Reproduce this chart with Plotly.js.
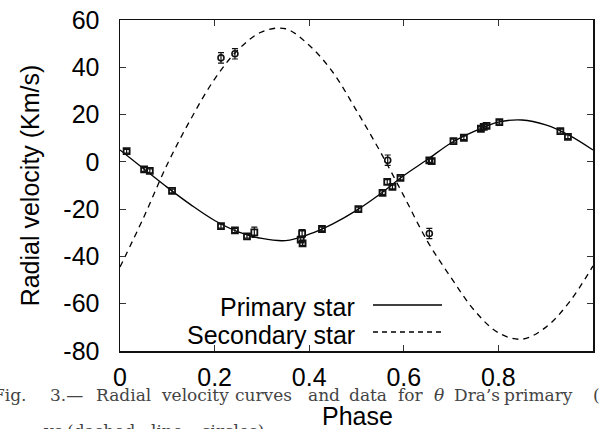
<!DOCTYPE html>
<html>
<head>
<meta charset="utf-8">
<script src="https://cdn.plot.ly/plotly-3.0.1.min.js"></script>
<style>html,body{margin:0;padding:0;background:#fff;}#chart{width:599px;height:429px;}</style>
</head>
<body>
<div id="chart"></div>
<script>
// Model curves
const curvePhase = [0,0.05,0.10,0.15,0.20,0.25,0.30,0.35,0.40,0.45,0.50,0.55,0.60,0.65,0.70,0.75,0.80,0.85,0.90,0.95,1.00];
const primaryCurve = [5.0,-2.9,-10.8,-18.2,-24.8,-29.6,-32.4,-33.3,-30.6,-26.2,-20.5,-13.6,-5.8,1.0,8.0,13.0,16.8,17.7,15.6,11.2,5.0];
const secondaryCurve = [-44.5,-23.5,-1.0,18.2,35.0,47.5,55.0,56.3,49.3,37.9,21.7,4.4,-14.4,-33.6,-49.0,-63.0,-72.3,-75.0,-70.0,-59.3,-44.0];

// Primary star data (squares)
const primaryPhase = [0.014,0.051,0.063,0.110,0.2135,0.243,0.2685,0.284,0.385,0.382,0.386,0.427,0.504,0.555,0.565,0.576,0.593,0.654,0.659,0.705,0.727,0.763,0.769,0.775,0.802,0.931,0.947];
const primaryRV    = [4.5,-3.2,-3.8,-12.3,-27.2,-29.0,-31.5,-29.8,-30.3,-32.9,-34.5,-28.4,-20.0,-13.1,-8.5,-10.6,-6.8,0.6,0.3,8.8,10.2,14.0,14.8,15.2,16.8,13.0,10.6];
const primaryErr   = [0.8,0.8,0.8,0.8,0.8,0.9,0.8,2.2,1.6,0.8,0.8,0.8,0.8,0.8,1.0,0.8,0.8,0.8,0.8,0.8,0.8,0.8,0.8,0.8,0.8,0.8,0.8];

// Secondary star data (circles)
const secondaryPhase = [0.2135,0.243,0.566,0.654];
const secondaryRV    = [44.0,45.7,0.7,-30.3];
const secondaryErr   = [2.2,2.2,2.2,2.2];

// Axis ticks
const xTickVals = [0,0.2,0.4,0.6,0.8,1];
const xTickText = ['0','0.2','0.4','0.6','0.8','1'];
const yTickVals = [-80,-60,-40,-20,0,20,40,60];
const yTickText = ['-80','-60','-40','-20','0','20','40','60'];

const legendNames = ['Primary star','Secondary star'];
const xTitle = 'Phase';
const yTitle = 'Radial velocity (Km/s)';

// Caption words (text, left edge in px) as they show under the chart
const captionLine1 = [['Fig.', -8], ['3.—', 49], ['Radial', 95], ['velocity', 160], ['curves', 234], ['and', 307], ['data', 348],
  ['for', 397], ['<i>θ</i>', 433], ['Dra\u2019s', 453], ['primary', 503], ['(', 592]];
const captionLine2 = [['ve', 42], ['(dashed', 66], ['line;', 150], ['circles).', 200]];

const sans = '"Liberation Sans", Arial, sans-serif';
const serif = '"DejaVu Serif", serif';

const traces = [
  {x: curvePhase, y: primaryCurve, mode: 'lines', line: {color: '#000', width: 1.3, shape: 'spline', smoothing: 1}, name: legendNames[0], showlegend: false, hoverinfo: 'skip'},
  {x: curvePhase, y: secondaryCurve, mode: 'lines', line: {color: '#000', width: 1.3, dash: '6px,5px', shape: 'spline', smoothing: 1}, name: legendNames[1], showlegend: false, hoverinfo: 'skip'},
  {x: primaryPhase, y: primaryRV, mode: 'markers', marker: {symbol: 'square-open', size: 6, color: '#111', line: {width: 1.8, color: '#111'}},
   error_y: {type: 'data', array: primaryErr, visible: true, color: '#111', thickness: 1.2, width: 3}, showlegend: false},
  {x: secondaryPhase, y: secondaryRV, mode: 'markers', marker: {symbol: 'circle-open', size: 6, color: '#111', line: {width: 1.6, color: '#111'}},
   error_y: {type: 'data', array: secondaryErr, visible: true, color: '#111', thickness: 1.2, width: 3}, showlegend: false}
];

// helpers to convert pixel positions to paper coordinates
const L = 120, T = 20, W = 473, H = 331;
const px = v => (v - L) / W;
const py = v => (T + H - v) / H;

const capFont = {family: serif, size: 17, color: '#444'};

const annotations = [
  {xref: 'paper', yref: 'paper', x: px(357), y: py(307), xanchor: 'right', yanchor: 'middle', text: legendNames[0], showarrow: false, font: {family: sans, size: 25, color: '#000'}},
  {xref: 'paper', yref: 'paper', x: px(357), y: py(334.5), xanchor: 'right', yanchor: 'middle', text: legendNames[1], showarrow: false, font: {family: sans, size: 25, color: '#000'}}
];
captionLine1.forEach(w => annotations.push({xref: 'paper', yref: 'paper', x: px(w[1]), y: py(395), xanchor: 'left', yanchor: 'middle', text: w[0], showarrow: false, font: capFont, borderpad: 0}));
captionLine2.forEach(w => annotations.push({xref: 'paper', yref: 'paper', x: px(w[1]), y: py(431), xanchor: 'left', yanchor: 'middle', text: w[0], showarrow: false, font: capFont, borderpad: 0}));
// x-axis title, drawn on top of the caption as in the reference
annotations.push({xref: 'paper', yref: 'paper', x: px(357), y: py(416), xanchor: 'center', yanchor: 'middle', text: xTitle, showarrow: false, font: {family: sans, size: 25, color: '#000'}});

const shapes = [
  {type: 'line', xref: 'paper', yref: 'paper', x0: px(373), x1: px(442), y0: py(305), y1: py(305), line: {color: '#000', width: 1.3}},
  {type: 'line', xref: 'paper', yref: 'paper', x0: px(373), x1: px(442), y0: py(332), y1: py(332), line: {color: '#000', width: 1.3, dash: '5px,4px'}}
];

const axisCommon = {
  showline: true, linecolor: '#111', linewidth: 1.5, mirror: 'ticks', ticks: 'inside', ticklen: 6, tickwidth: 1.2, tickcolor: '#333',
  showgrid: false, zeroline: false, tickfont: {family: sans, size: 25, color: '#000'}, tickmode: 'array'
};

const layout = {
  width: 599, height: 429,
  margin: {l: L, r: 599 - L - W, t: T, b: 429 - T - H, pad: 0},
  paper_bgcolor: '#fff', plot_bgcolor: '#fff',
  showlegend: false,
  xaxis: Object.assign({}, axisCommon, {range: [0, 1], tickvals: xTickVals, ticktext: xTickText, ticklabelstandoff: 3}),
  yaxis: Object.assign({}, axisCommon, {range: [-80, 60], tickvals: yTickVals, ticktext: yTickText, ticklabelstandoff: 14,
    title: {text: yTitle, font: {family: sans, size: 25, color: '#000'}, standoff: 16}}),
  annotations: annotations,
  shapes: shapes
};

Plotly.newPlot('chart', traces, layout, {staticPlot: true, displayModeBar: false});
</script>
</body>
</html>
